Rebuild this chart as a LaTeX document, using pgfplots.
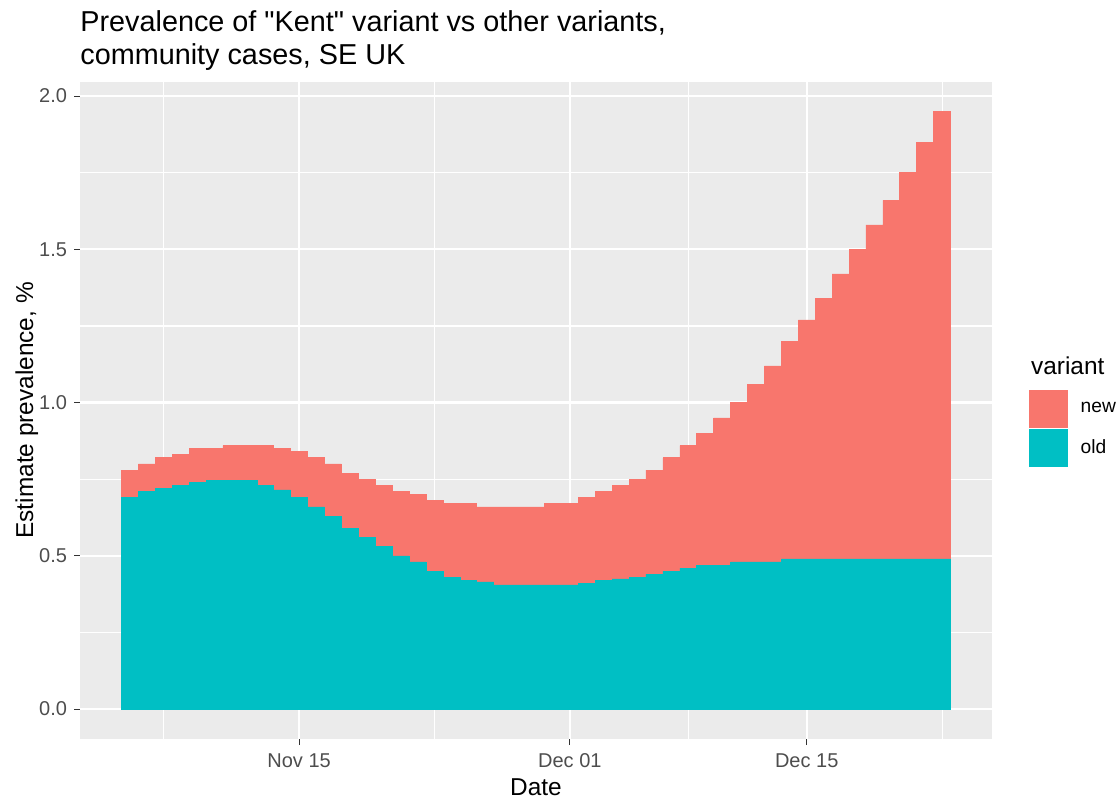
\documentclass[border=0pt]{standalone}
\usepackage{fontspec}
\setmainfont{Liberation Sans}
\newfontfamily\qfont{Liberation Sans}
\usepackage{pgfplots}
\usepackage{pgfplotstable}
\pgfplotsset{compat=1.18}
\definecolor{newc}{HTML}{F8766D}
\definecolor{oldc}{HTML}{00BFC4}
\definecolor{panelgray}{HTML}{EBEBEB}
\definecolor{gray30}{HTML}{4D4D4D}
\definecolor{gray20}{HTML}{333333}
\pgfplotstableread{
day old new
5 0.690 0.090
6 0.710 0.090
7 0.720 0.100
8 0.730 0.100
9 0.740 0.110
10 0.745 0.105
11 0.745 0.115
12 0.745 0.115
13 0.730 0.130
14 0.715 0.135
15 0.690 0.150
16 0.660 0.160
17 0.630 0.170
18 0.590 0.180
19 0.560 0.190
20 0.530 0.200
21 0.500 0.210
22 0.480 0.220
23 0.450 0.230
24 0.430 0.240
25 0.420 0.250
26 0.415 0.245
27 0.405 0.255
28 0.405 0.255
29 0.405 0.255
30 0.405 0.265
31 0.405 0.265
32 0.410 0.280
33 0.420 0.290
34 0.425 0.305
35 0.430 0.320
36 0.440 0.340
37 0.450 0.370
38 0.460 0.400
39 0.470 0.430
40 0.470 0.480
41 0.480 0.520
42 0.480 0.580
43 0.480 0.640
44 0.490 0.710
45 0.490 0.780
46 0.490 0.850
47 0.490 0.930
48 0.490 1.010
49 0.490 1.090
50 0.490 1.170
51 0.490 1.260
52 0.490 1.360
53 0.490 1.460
}\prevdata
\begin{document}
\begin{tikzpicture}
\path[use as bounding box] (0,0) rectangle (559pt,399.5pt);
\begin{axis}[
  at={(40pt,30pt)}, anchor=south west,
  width=456pt, height=328.65pt, scale only axis,
  xmin=2.05, xmax=55.95, ymin=-0.0976, ymax=2.047,
  ybar stacked, bar width=1,
  axis background/.style={fill=panelgray},
  axis line style={draw=none},
  tick pos=left, tick align=outside,
  major tick length=3pt, minor tick length=0pt,
  tick style={draw=gray20, line width=0.55pt},
  xtick={15,31,45}, xticklabels={Nov 15,Dec 01,Dec 15},
  ytick={0,0.5,1,1.5,2}, yticklabels={0.0,0.5,1.0,1.5,2.0},
  minor xtick={7,23,38,53}, minor ytick={0.25,0.75,1.25,1.75},
  grid=both,
  major grid style={draw=white, line width=1.1pt},
  minor grid style={draw=white, line width=0.55pt},
  ticklabel style={font=\fontsize{10}{12}\selectfont, text=gray30, inner sep=0pt},
  xticklabel shift=4pt, yticklabel shift=3.3pt,
  /pgf/number format/assume math mode=true,
  xlabel={Date}, ylabel={Estimate prevalence, \%},
  xlabel style={font=\fontsize{12.2}{14}\selectfont, at={(axis description cs:0.5,-0.0867)}, anchor=base, inner sep=0pt},
  ylabel style={font=\fontsize{12.2}{14}\selectfont, at={(axis description cs:-0.0515,0.5)}, anchor=base, rotate=0, inner sep=0pt},
  reverse legend,
  legend style={at={(axis description cs:1.0409,0.531)}, anchor=north west, draw=none, fill=none,
    inner sep=0pt, outer sep=0pt, row sep=0.7pt, column sep=6.5pt,
    nodes={inner sep=0pt, font=\fontsize{9.6}{11}\selectfont, text=black}},
  legend cell align=left,
  legend image code/.code={\fill[#1,draw=none] (0pt,-9.4pt) rectangle (19.2pt,9.4pt);},
  clip=false,
]
\addplot[fill=oldc, draw=oldc, line width=0.3pt] table[x=day, y=old] {\prevdata};
\addlegendentry{old}
\addplot[fill=newc, draw=newc, line width=0.3pt] table[x=day, y=new] {\prevdata};
\addlegendentry{new}
\node[anchor=base west, inner sep=0pt, font=\fontsize{12.2}{14}\selectfont] at (axis description cs:1.0425,0.5538) {variant};
\node[anchor=base west, inner sep=0pt, font=\fontsize{14.4}{17}\selectfont] at (axis description cs:0.0,1.0761) {Prevalence of {\qfont"}Kent{\qfont"} variant vs other variants,};
\node[anchor=base west, inner sep=0pt, font=\fontsize{14.4}{17}\selectfont] at (axis description cs:0.0,1.0265) {community cases, SE UK};
\end{axis}
\end{tikzpicture}
\end{document}
